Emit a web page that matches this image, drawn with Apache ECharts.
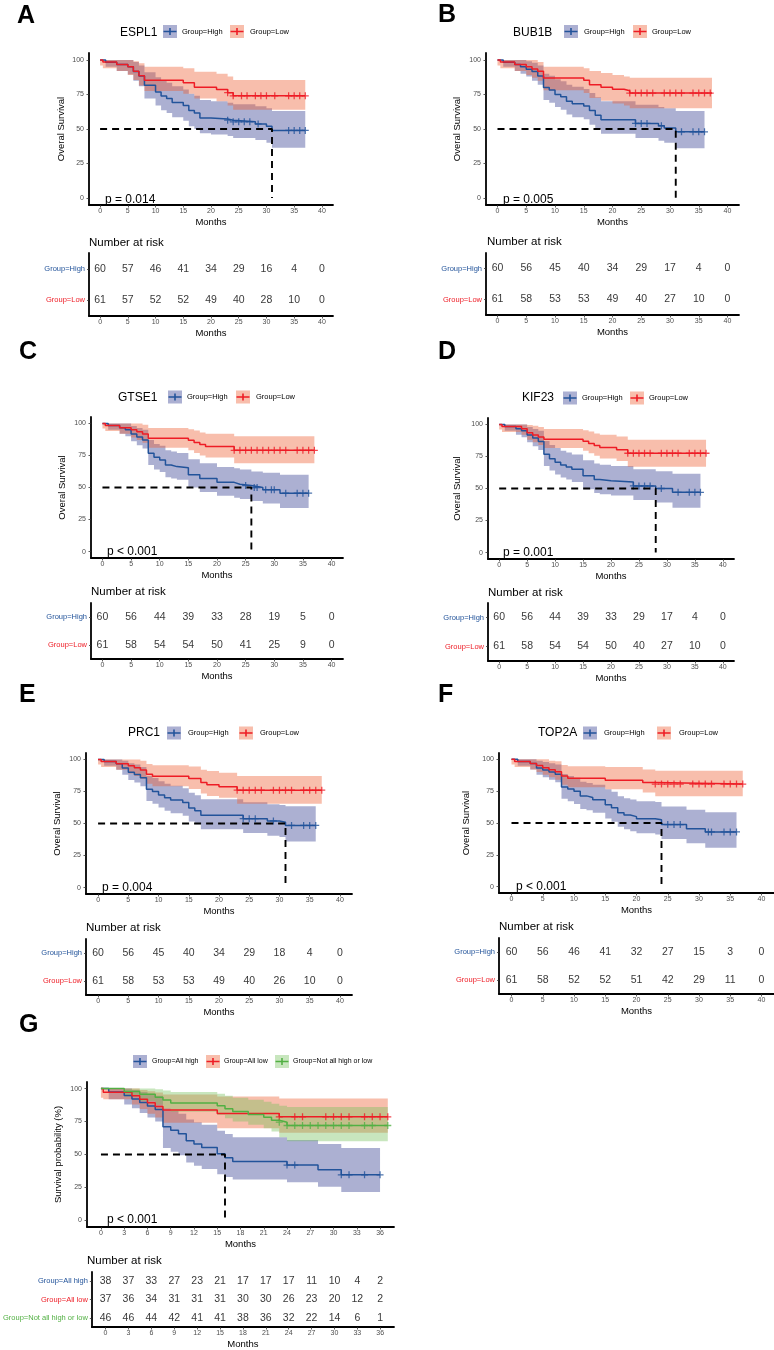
<!DOCTYPE html>
<html><head><meta charset="utf-8">
<script src="https://cdn.jsdelivr.net/npm/echarts@6/dist/echarts.min.js"></script>
<style>html,body{margin:0;padding:0;background:#fff}#c{width:774px;height:1350px}</style>
</head><body><div id="c"></div>
<script>
// ---------------- DATA ----------------
const ticks40 = [0,5,10,15,20,25,30,35,40];
const ticks36 = [0,3,6,9,12,15,18,21,24,27,30,33,36];
const survTicks = [0,25,50,75,100];
const riskTimes40 = [0,5,10,15,20,25,30,35,40];
const riskTimes36 = [0,3,6,9,12,15,18,21,24,27,30,33,36];

// Panel A: ESPL1
const A_high_t = [0,1,3,5,6,7,8,10,11,12,13,15,16,17,18,20,23,24,28,30,31];
const A_high_s = [100,98.3,96.7,95,91.7,88.3,81.7,76.7,73.8,72,69.2,67,63.4,61.5,58,57.3,56.4,55.2,53.7,52,49];
const A_high_lo = [100,95,92,89.5,85,81,72,67,63.5,61.5,58.5,56,52,50,47,46,45,43.5,42,40,36.5];
const A_high_hi = [100,100,100,100,98.5,96,91,87.5,85,83.5,81,78.5,75.5,74,71,70,69,68,66.5,65,63];
const A_high_end = 37;
const A_high_cens = [23,24,25,26,27,28.5,34,35,36,37];
const A_low_t = [0,0.5,3,5,6,7,8,15,17,21,23,24];
const A_low_s = [100,98.4,96.7,95.1,91.8,88.5,85.2,83.5,80.3,78.6,76.3,74];
const A_low_lo = [96,94,92,89,85.5,81.5,77.5,75.5,72,70,67,64];
const A_low_hi = [100,100,100,100,99,97.5,95,94,91.5,90,88,85.5];
const A_low_end = 37;
const A_low_cens = [23,24,25.5,26.5,28,29,30,31.5,34,35,36,37];
const A_median = 31;
const A_risk_high = [60,57,46,41,34,29,16,4,0];
const A_risk_low = [61,57,52,52,49,40,28,10,0];

// Panel B: BUB1B
const B_high_t = [0,1,3,4,5,6,7,8,9,10,11,12,13,15,16,17,18,24,28,29,31];
const B_high_s = [100,98.3,96.7,95,93.3,91.7,88.3,80,78.3,75,73.3,70,68.3,66.7,63.3,60,56.7,54,52.3,50.8,48];
const B_high_lo = [100,95,92,90,88,85,82,71,69,66,64,60.5,58.5,57,53,50,46.5,43.5,41.5,40,36];
const B_high_hi = [100,100,100,100,99,98,96,90,88.5,86,84.5,82,80.5,79,76,73,70,67.5,66,65,63];
const B_high_end = 36;
const B_high_cens = [24,25,26,28.5,32,34,35,36];
const B_low_t = [0,0.5,3,5,6,7,8,15,16,18,20,22,23];
const B_low_s = [100,98.4,96.7,95.1,93.4,91.8,86.9,85.2,82,80.3,78.7,77.7,76];
const B_low_lo = [96,94,92,89,87,85,78,76,72.5,70.5,68.5,67,65];
const B_low_hi = [100,100,100,100,100,98.5,95,94,92,90.5,89,88,87];
const B_low_end = 37.3;
const B_low_cens = [23,24,25,26,27,29,30,31,32,34,35,36,37];
const B_median = 31;
const B_risk_high = [60,56,45,40,34,29,17,4,0];
const B_risk_low = [61,58,53,53,49,40,27,10,0];

// Panel C: GTSE1
const C_high_t = [0,1,3,4,5,6,7,8,9,10,11,12,13,15,17,20,23,24,26,28,31];
const C_high_s = [100,98.3,96.7,95,91.7,89.3,87,76.7,73.6,71.5,67.6,66.3,65.5,60,57,54,52.6,51.5,50,48.3,45.6];
const C_high_lo = [100,95,92,90,86,83,80.5,67.5,64,62,58,57,56,50,46.5,43.5,42,41,39.5,37.5,34];
const C_high_hi = [100,100,100,100,98,96.5,95,87,84,82.5,79,78,77,72,69,66,65,64,62.5,61.5,60];
const C_high_end = 36;
const C_high_cens = [25,26.5,27,28.5,29.5,30,32,34,35,36];
const C_low_t = [0,0.5,3,5,6,7,8,15,16,17,18,23];
const C_low_s = [100,98.4,96.7,95.1,93.4,91.8,88.5,86.9,85.2,83.6,82,79];
const C_low_lo = [96,94,92,89,87,85,81,79,77,75,73.5,69];
const C_low_hi = [100,100,100,100,100,99,96.5,95.5,94.5,93,92,90];
const C_low_end = 37;
const C_low_cens = [23,24,25,26,27,28,29,30,31,32,34,35,36,37];
const C_median = 26;
const C_risk_high = [60,56,44,39,33,28,19,5,0];
const C_risk_low = [61,58,54,54,50,41,25,9,0];

// Panel D: KIF23
const D_high_t = [0,1,3,4,5,6,7,8,9,10,11,12,13,15,17,18,20,24,28,31];
const D_high_s = [100,98.3,96.7,95,91.7,89.3,86.7,76.7,73.3,70.5,68.3,66.7,65,60,57,56,55,52,50,47];
const D_high_lo = [100,95,92,90,86,83,80,67.5,64,61,58.5,57,55,49.5,46.5,45.5,44.5,41,39,35];
const D_high_hi = [100,100,100,100,98,96.5,95,87,84,81.5,79.5,78,76.5,72,69.5,68.5,67.5,65,63.5,61.5];
const D_high_end = 36;
const D_high_cens = [24,25,26,27,29,32,34,35,36];
const D_low_t = [0,0.5,4,5,6,7,8,15,16,17,18,21,23];
const D_low_s = [100,98.4,96.7,93.4,91.8,90.2,88.5,86.9,85.2,83.6,82,80.3,77.5];
const D_low_lo = [96,94,92,88,86,84,81.5,79.5,77.5,75.5,73.5,71.5,67];
const D_low_hi = [100,100,100,99.5,99,98,96.5,95.5,94.5,93,92,90.5,88];
const D_low_end = 37;
const D_low_cens = [23,24,25,26,27,29,30,31,32,34,35,36,37];
const D_median = 28;
const D_risk_high = [60,56,44,39,33,29,17,4,0];
const D_risk_low = [61,58,54,54,50,40,27,10,0];

// Panel E: PRC1
const E_high_t = [0,1,3,4,5,6,7,8,9,10,11,12,14,15,16,17,24,28,30,31];
const E_high_s = [100,98.3,96.7,93.3,90,88.3,85.7,76.7,75,72.3,70,68.3,66.3,62,60,56.5,53.8,52,51,48.5];
const E_high_lo = [100,95,92,88,84,82,79,67.5,65.5,62.5,60,58,56,51.5,49.5,45.5,42.5,40.5,39.5,36];
const E_high_hi = [100,100,100,99,97,96,94,87,85.5,83,81,79.5,77.5,74,72,69,66.5,65,64.5,63.5];
const E_high_end = 36;
const E_high_cens = [24,25,26,29,32,34,35,36];
const E_low_t = [0,0.5,3,5,6,7,8,9,15,17,18,20,23];
const E_low_s = [100,98.4,96.7,95.1,93.4,91.8,88.5,86.9,85.2,82,80.3,78.7,76];
const E_low_lo = [96,94,92,89,87,85,81,79,77,73.5,71.5,70,65.5];
const E_low_hi = [100,100,100,100,100,99,96.5,95.5,94.5,92,91,89.5,87];
const E_low_end = 37;
const E_low_cens = [23,24,25,26,27,29,30,31,32,34,35,36,37];
const E_median = 31;
const E_risk_high = [60,56,45,40,34,29,18,4,0];
const E_risk_low = [61,58,53,53,49,40,26,10,0];

// Panel F: TOP2A
const F_high_t = [0,1,3,4,5,6,7,8,9,10,11,12,13,15,16,17,18,19,20,23,24,28,31];
const F_high_s = [100,98.3,96.7,93.3,91.7,90,88.3,78.3,76.7,75,71.3,70,68.3,64.3,62,58,56.3,55,53.3,52.5,48.8,45.5,43];
const F_high_lo = [100,95,92,88,86,84,82,69,67,65,61,60,58,53.5,51,47,45,43.5,42,41,37.5,34,30.5];
const F_high_hi = [100,100,100,99,98,97,96,88.5,87,85.5,82.5,81.5,80,76.5,74.5,71,69.5,68.5,67,66.5,63,60.5,58.5];
const F_high_end = 36;
const F_high_cens = [25,26,27,31.5,32,34,35,36];
const F_low_t = [0,0.5,3,4,5,6,7,8,9,15,21,23];
const F_low_s = [100,98.4,96.7,95.1,93.4,91.8,90.2,86.9,85.2,83.6,81.9,80.6];
const F_low_lo = [96,94,92,90,88,86,84,80,78,76.5,74,71];
const F_low_hi = [100,100,100,100,100,99,98.5,95.5,94.5,94,92,91];
const F_low_end = 37;
const F_low_cens = [23,24,25,26,27,29,30,31,32,34,35,36,37];
const F_median = 24;
const F_risk_high = [60,56,46,41,32,27,15,3,0];
const F_risk_low = [61,58,52,52,51,42,29,11,0];

// Panel G: combined
const G_allhigh_t = [0,1,3,4,5,6,7,8,9,10,11,12,13,15,16,17,24,28,31];
const G_allhigh_s = [100,97.4,94.7,92.1,89.5,86.8,84.2,71,68.4,65.8,60.5,57.9,55.3,50.5,47.6,44.7,42,38.4,34.6];
const G_allhigh_lo = [100,92,88,85,81.5,78,75,55,52,49.5,44,41.5,39,35,33,31,29,25.5,21.5];
const G_allhigh_hi = [100,100,100,99,97.5,96,94.5,85,83,81,76.5,74.5,72.5,68,65.5,63,61,58,55];
const G_allhigh_end = 36;
const G_allhigh_cens = [24,25,31,32,34,36];
const G_alllow_t = [0,0.3,4,5,6,7,8,15,23];
const G_alllow_s = [100,97.3,94.6,91.9,89.2,86.5,83.8,81.1,78.6];
const G_alllow_lo = [93,92,88,84.5,81,78,74,70,66.5];
const G_alllow_hi = [100,100,100,99,98,97,95.5,94,92.5];
const G_alllow_end = 37;
const G_alllow_cens = [23,25,26,29,30,31,32,34,35,36,37];
const G_notall_t = [0,3,5,7,8,9,15,16,17,19,21,22,23,24];
const G_notall_s = [100,97.8,95.7,93.5,91.3,89.1,86.9,84.8,82.6,80.4,78.2,76,74.5,72];
const G_notall_lo = [100,94,90.5,88,85,82.5,80,77.5,75,72.5,70,67.5,63,60];
const G_notall_hi = [100,100,100,99.5,98.5,97.5,96,94.5,93,91.5,90,88.5,87,86];
const G_notall_end = 37;
const G_notall_cens = [23,24,25,26,27,28,29,30,31,32,34,35,37];
const G_median = 16;
const G_risk_allhigh = [38,37,33,27,23,21,17,17,17,11,10,4,2];
const G_risk_alllow = [37,36,34,31,31,31,30,30,26,23,20,12,2];
const G_risk_notall = [46,46,44,42,41,41,38,36,32,22,14,6,1];

// ---------------- STYLE / LAYOUT ----------------
const FONT = '"Liberation Sans", Arial, Helvetica, sans-serif';
const COL = {high:'#22539A', low:'#EE1C25', mid:'#52B043'};
const FILL = {high:'rgba(48,58,142,0.4)', low:'rgba(237,92,47,0.4)', mid:'rgba(117,192,92,0.4)'};
const PLUS = 'path://M0,4.1H10V5.9H0Z M4.1,0H5.9V10H4.1Z';

function stepAt(t, s, x){ let v = s[0]; for (let i=0;i<t.length;i++){ if (t[i] <= x) v = s[i]; } return v; }
function curve(t,s,lo,hi,end,cens,key,name,risk){ return {t,s,lo,hi,end,cens,key,name,risk}; }

const panels = [
 {letter:'A', letterPos:[17,16], title:'ESPL1', titlePos:[120,33], legendY:31.5, legendBox:[163,230], legendText:[182,250], legendFs:7.5,
  plot:[89,53,333,205], table:[89,253,333,316], narPos:[89,242.5], yGap:23, yName:'Overal Survival', pPos:[105,199.5], pText:'p = 0.014',
  median:A_median, xRange:[-2,42], ticks:ticks40, riskTimes:riskTimes40,
  curves:[curve(A_high_t,A_high_s,A_high_lo,A_high_hi,A_high_end,A_high_cens,'high','Group=High',A_risk_high),
          curve(A_low_t,A_low_s,A_low_lo,A_low_hi,A_low_end,A_low_cens,'low','Group=Low',A_risk_low)]},
 {letter:'B', letterPos:[438,15], title:'BUB1B', titlePos:[513,33], legendY:31.5, legendBox:[564,633], legendText:[584,652], legendFs:7.5,
  plot:[486,53,739,205], table:[486,253,739,315], narPos:[487,242], yGap:24, yName:'Overal Survival', pPos:[503,199.5], pText:'p = 0.005',
  median:B_median, xRange:[-2,42], ticks:ticks40, riskTimes:riskTimes40,
  curves:[curve(B_high_t,B_high_s,B_high_lo,B_high_hi,B_high_end,B_high_cens,'high','Group=High',B_risk_high),
          curve(B_low_t,B_low_s,B_low_lo,B_low_hi,B_low_end,B_low_cens,'low','Group=Low',B_risk_low)]},
 {letter:'C', letterPos:[19,352], title:'GTSE1', titlePos:[118,398], legendY:397, legendBox:[168,236], legendText:[187,256], legendFs:7.5,
  plot:[91,417,343,558], table:[91,603,343,659], narPos:[91,592], yGap:24, yName:'Overal Survival', pPos:[107,552], pText:'p < 0.001',
  median:C_median, xRange:[-2,42], ticks:ticks40, riskTimes:riskTimes40,
  curves:[curve(C_high_t,C_high_s,C_high_lo,C_high_hi,C_high_end,C_high_cens,'high','Group=High',C_risk_high),
          curve(C_low_t,C_low_s,C_low_lo,C_low_hi,C_low_end,C_low_cens,'low','Group=Low',C_risk_low)]},
 {letter:'D', letterPos:[438,352], title:'KIF23', titlePos:[522,398], legendY:398, legendBox:[563,630], legendText:[582,649], legendFs:7.5,
  plot:[488,418,734,559], table:[488,603,734,661], narPos:[488,593], yGap:26, yName:'Overal Survival', pPos:[503,553], pText:'p = 0.001',
  median:D_median, xRange:[-2,42], ticks:ticks40, riskTimes:riskTimes40,
  curves:[curve(D_high_t,D_high_s,D_high_lo,D_high_hi,D_high_end,D_high_cens,'high','Group=High',D_risk_high),
          curve(D_low_t,D_low_s,D_low_lo,D_low_hi,D_low_end,D_low_cens,'low','Group=Low',D_risk_low)]},
 {letter:'E', letterPos:[19,695], title:'PRC1', titlePos:[128,733], legendY:733, legendBox:[167,239], legendText:[188,260], legendFs:7.5,
  plot:[86,753,352,894], table:[86,939,352,995], narPos:[86,928], yGap:24, yName:'Overal Survival', pPos:[102,888], pText:'p = 0.004',
  median:E_median, xRange:[-2,42], ticks:ticks40, riskTimes:riskTimes40,
  curves:[curve(E_high_t,E_high_s,E_high_lo,E_high_hi,E_high_end,E_high_cens,'high','Group=High',E_risk_high),
          curve(E_low_t,E_low_s,E_low_lo,E_low_hi,E_low_end,E_low_cens,'low','Group=Low',E_risk_low)]},
 {letter:'F', letterPos:[438,695], title:'TOP2A', titlePos:[538,733], legendY:733, legendBox:[583,657], legendText:[604,679], legendFs:7.5,
  plot:[499,753,774,893], table:[499,938,774,994], narPos:[499,927], yGap:28, yName:'Overal Survival', pPos:[516,887], pText:'p < 0.001',
  median:F_median, xRange:[-2,42], ticks:ticks40, riskTimes:riskTimes40,
  curves:[curve(F_high_t,F_high_s,F_high_lo,F_high_hi,F_high_end,F_high_cens,'high','Group=High',F_risk_high),
          curve(F_low_t,F_low_s,F_low_lo,F_low_hi,F_low_end,F_low_cens,'low','Group=Low',F_risk_low)]},
 {letter:'G', letterPos:[19,1025.5], title:'', titlePos:null, legendY:1061.5, legendBox:[133,206,275], legendText:[152,224,293], legendFs:7,
  plot:[87,1082,394,1227], table:[87,1272,394,1331], narPos:[87,1261], yGap:24, yName:'Survival probability (%)', pPos:[107,1220], pText:'p < 0.001',
  median:G_median, xRange:[-1.8,37.8], ticks:ticks36, riskTimes:riskTimes36,
  curves:[curve(G_allhigh_t,G_allhigh_s,G_allhigh_lo,G_allhigh_hi,G_allhigh_end,G_allhigh_cens,'high','Group=All high',G_risk_allhigh),
          curve(G_alllow_t,G_alllow_s,G_alllow_lo,G_alllow_hi,G_alllow_end,G_alllow_cens,'low','Group=All low',G_risk_alllow),
          curve(G_notall_t,G_notall_s,G_notall_lo,G_notall_hi,G_notall_end,G_notall_cens,'mid','Group=Not all high or low',G_risk_notall)]}
];

const option = {animation:false, backgroundColor:'#fff', grid:[], xAxis:[], yAxis:[], series:[], graphic:[]};

function xAxisCfg(gi, range, ticks){
  return {gridIndex:gi, type:'value', min:range[0], max:range[1],
    axisLine:{show:true, onZero:false, lineStyle:{color:'#000', width:1.8}},
    axisTick:{show:true, customValues:ticks, length:2.5, lineStyle:{color:'#333', width:0.8}},
    axisLabel:{show:true, customValues:ticks, fontSize:7, color:'#4d4d4d', margin:3, fontFamily:FONT},
    splitLine:{show:false},
    name:'Months', nameLocation:'middle', nameGap:12, nameTextStyle:{fontSize:9.5, color:'#000', fontFamily:FONT}};
}

function txt(x, y, text, fs, extra){
  return Object.assign({type:'text', x:x, y:y, silent:true,
    style:{text:text, fontSize:fs, fontFamily:FONT, fill:'#000', verticalAlign:'middle', textVerticalAlign:'middle', align:'left', textAlign:'left'}}, extra||{});
}

panels.forEach(function(P, k){
  const gi = 2*k, ti = 2*k+1;
  option.grid.push({left:P.plot[0], top:P.plot[1], width:P.plot[2]-P.plot[0], height:P.plot[3]-P.plot[1]});
  option.grid.push({left:P.table[0], top:P.table[1], width:P.table[2]-P.table[0], height:P.table[3]-P.table[1]});
  option.xAxis.push(xAxisCfg(gi, P.xRange, P.ticks));
  option.xAxis.push(xAxisCfg(ti, P.xRange, P.ticks));
  option.yAxis.push({gridIndex:gi, type:'value', min:-5, max:105,
    axisLine:{show:true, onZero:false, lineStyle:{color:'#000', width:1.8}},
    axisTick:{show:true, customValues:survTicks, length:2.5, lineStyle:{color:'#333', width:0.8}},
    axisLabel:{show:true, customValues:survTicks, fontSize:7, color:'#4d4d4d', margin:5, fontFamily:FONT},
    splitLine:{show:false},
    name:P.yName, nameLocation:'middle', nameGap:P.yGap, nameTextStyle:{fontSize:9.5, color:'#000', fontFamily:FONT}});
  const rowNames = P.curves.map(c=>c.name);
  const rowCol = {}; P.curves.forEach(c=>{ rowCol[c.name] = COL[c.key]; });
  option.yAxis.push({gridIndex:ti, type:'category', inverse:true, data:rowNames,
    axisLine:{show:true, onZero:false, lineStyle:{color:'#000', width:1.8}},
    axisTick:{show:true, alignWithLabel:true, length:2, lineStyle:{color:'#333', width:0.8}},
    axisLabel:{fontSize:7.5, margin:4, fontFamily:FONT, color:function(v){ return rowCol[v] || '#000'; }},
    splitLine:{show:false}});

  // confidence bands
  P.curves.forEach(function(c){
    const rows = c.t.map((v,i)=>[v, c.lo[i], c.hi[i]]);
    rows.push([c.end, c.lo[c.lo.length-1], c.hi[c.hi.length-1]]);
    option.series.push({type:'custom', coordinateSystem:'cartesian2d', xAxisIndex:gi, yAxisIndex:gi, z:1, silent:true,
      data:rows, encode:{x:0, y:[1,2]},
      renderItem:function(params, api){
        if (params.dataIndex !== 0) return null;
        const up=[], dn=[];
        for (let i=0;i<rows.length;i++){
          const x0 = rows[i][0], x1 = i<rows.length-1 ? rows[i+1][0] : rows[i][0];
          up.push(api.coord([x0, rows[i][2]])); up.push(api.coord([x1, rows[i][2]]));
          dn.push(api.coord([x0, rows[i][1]])); dn.push(api.coord([x1, rows[i][1]]));
        }
        return {type:'polygon', shape:{points: up.concat(dn.reverse())}, style:{fill:FILL[c.key]}};
      }});
  });
  // survival step lines + censor marks
  P.curves.forEach(function(c){
    const pts = c.t.map((v,i)=>[v, c.s[i]]);
    pts.push([c.end, c.s[c.s.length-1]]);
    option.series.push({type:'line', step:'end', xAxisIndex:gi, yAxisIndex:gi, z:3, silent:true, symbol:'none',
      data:pts, lineStyle:{color:COL[c.key], width:1.5}});
    option.series.push({type:'scatter', xAxisIndex:gi, yAxisIndex:gi, z:4, silent:true, symbol:PLUS, symbolSize:7,
      itemStyle:{color:COL[c.key]}, data:c.cens.map(x=>[x, stepAt(c.t, c.s, x)])});
  });
  // median dashed line
  option.series.push({type:'line', xAxisIndex:gi, yAxisIndex:gi, z:5, silent:true, symbol:'none',
    data:[[0,50],[P.median,50],[P.median,0]], lineStyle:{color:'#000', width:1.9, type:[7,5]}});
  // risk table numbers
  P.curves.forEach(function(c, r){
    option.series.push({type:'scatter', xAxisIndex:ti, yAxisIndex:ti, silent:true, symbolSize:0,
      data:P.riskTimes.map((t,i)=>[t, r, c.risk[i]]),
      label:{show:true, position:'inside', formatter:p=>String(p.value[2]), fontSize:10.5, color:'#000', fontFamily:FONT}});
  });

  // texts
  option.graphic.push(txt(P.letterPos[0], P.letterPos[1], P.letter, 25, {style:{text:P.letter, fontSize:25, fontWeight:'bold', fontFamily:FONT, fill:'#000', verticalAlign:'middle', textVerticalAlign:'middle'}}));
  if (P.title) option.graphic.push(txt(P.titlePos[0], P.titlePos[1], P.title, 12));
  P.curves.forEach(function(c, i){
    const x = P.legendBox[i], cy = P.legendY;
    option.graphic.push({type:'rect', silent:true, shape:{x:x, y:cy-6.5, width:14, height:13}, style:{fill:FILL[c.key]}});
    option.graphic.push({type:'line', silent:true, shape:{x1:x+0.5, y1:cy, x2:x+13.5, y2:cy}, style:{stroke:COL[c.key], lineWidth:1.5}});
    option.graphic.push({type:'rect', silent:true, shape:{x:x+6.2, y:cy-3.5, width:1.6, height:7}, style:{fill:COL[c.key]}});
    option.graphic.push(txt(P.legendText[i], cy, c.name, P.legendFs));
  });
  option.graphic.push(txt(P.narPos[0], P.narPos[1], 'Number at risk', 11.5));
  option.graphic.push(txt(P.pPos[0], P.pPos[1], P.pText, 12));
});

const chart = echarts.init(document.getElementById('c'), null, {renderer:'canvas'});
chart.setOption(option);
</script></body></html>
